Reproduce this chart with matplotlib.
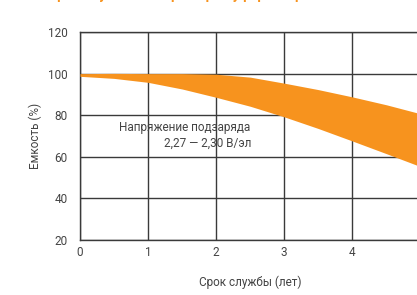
import matplotlib
matplotlib.use("Agg")
import matplotlib.pyplot as plt

# Capacity band vs. service life (every half year)
years = [0, 0.5, 1, 1.5, 2, 2.5, 3, 3.5, 4, 4.5, 5]
cap_upper = [100, 100.1, 100, 100, 99.7, 98.3, 95.4, 92.3, 88.8, 85.0, 80.7]
cap_lower = [98.7, 97.7, 95.8, 92.6, 88.6, 84.3, 79.2, 73.6, 67.6, 61.5, 55.3]

x_ticks = [0, 1, 2, 3, 4, 5]
y_ticks = [20, 40, 60, 80, 100, 120]

title_text = "Срок службы батареи при буферном режиме"
note_line1 = "Напряжение подзаряда"
note_line2 = "2,27 — 2,30 В/эл"

plt.rcParams['font.family'] = ['Roboto', 'DejaVu Sans']

orange = "#f7931e"
text_col = "#444444"

fig = plt.figure(figsize=(4.17, 2.95), dpi=100)
ax = fig.add_axes([0.1918, 0.1864, 0.8166, 0.7051])

ax.fill_between(years, cap_lower, cap_upper, color=orange, lw=0, zorder=3)

ax.set_xlim(0, 5)
ax.set_ylim(20, 120)
ax.set_xticks(x_ticks)
ax.set_yticks(y_ticks)
ax.grid(True, color="#3a3a3a", lw=1.0, zorder=1)
ax.set_axisbelow(True)
ax.tick_params(length=0, labelsize=8.5, labelcolor=text_col)
ax.tick_params(axis="x", pad=4)
ax.tick_params(axis="y", pad=9)
for s in ax.spines.values():
    s.set_color("#3a3a3a")
    s.set_linewidth(1.0)

ax.set_xlabel("Срок службы (лет)", fontsize=8.5, color=text_col, labelpad=12)
ax.set_ylabel("Емкость (%)", fontsize=8.5, color=text_col, labelpad=4)

ax.text(0.57, 73.9, note_line1, fontsize=8.5, color=text_col, va="center", ha="left")
ax.text(2.52, 66.3, note_line2, fontsize=8.5, color=text_col, va="center", ha="right")

# the title sits just above the visible area, only its descenders show
fig.text(48 / 417, 1.0 + 0.5 / 295, title_text, fontsize=10, fontweight="bold",
         color=orange, va="baseline", ha="left")

fig.savefig("out.png", dpi=100)
